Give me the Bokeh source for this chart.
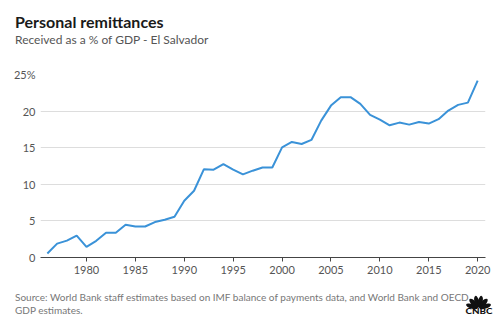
from bokeh.plotting import figure
from bokeh.models import Range1d, FixedTicker, CustomJSTickFormatter, Div
from bokeh.layouts import column
from bokeh.embed import file_html
from bokeh.resources import INLINE

years = list(range(1976, 2021))
remittances = [0.55, 1.9, 2.3, 3.0, 1.46, 2.28, 3.38, 3.38, 4.47, 4.24,
               4.24, 4.84, 5.16, 5.57, 7.76, 9.12, 12.04, 12.0, 12.77, 12.0,
               11.36, 11.86, 12.3, 12.3, 15.05, 15.78, 15.5, 16.06, 18.7, 20.75,
               21.9, 21.9, 20.98, 19.48, 18.84, 18.06, 18.43, 18.15, 18.52, 18.3,
               18.9, 20.07, 20.85, 21.16, 24.17]
x_ticks = [1980, 1985, 1990, 1995, 2000, 2005, 2010, 2015, 2020]
y_ticks = [0, 5, 10, 15, 20, 25]
title_text = "Personal remittances"
subtitle_text = "Received as a % of GDP - El Salvador"
source_lines = ["Source: World Bank staff estimates based on IMF balance of payments data, and World Bank and OECD",
                "GDP estimates."]

FONT = "Lato"

header = Div(
    text=(f'<div style="padding-top:12px;padding-left:15px;font-family:{FONT};">'
          f'<div style="font-size:16px;font-weight:bold;color:#1a1a1a;line-height:20px;white-space:nowrap;">{title_text}</div>'
          f'<div style="font-size:12px;color:#555555;line-height:20px;margin-top:-2px;white-space:nowrap;">{subtitle_text}</div>'
          '</div>'),
    width=500, height=56, margin=0)

p = figure(width=500, height=228, output_backend="svg", toolbar_location=None,
           x_range=Range1d(1975.3, 2020.8), y_range=Range1d(0, 25),
           min_border_left=40, min_border_right=15, min_border_top=18, min_border_bottom=27,
           margin=0)
p.outline_line_color = None
p.background_fill_color = "white"
p.border_fill_color = "white"

p.line(years, remittances, line_color="#3a92d8", line_width=2)

p.xaxis.ticker = FixedTicker(ticks=x_ticks)
p.xaxis.minor_tick_line_color = None
p.xaxis.major_tick_in = 0
p.xaxis.major_tick_out = 4
p.xaxis.axis_line_color = "#444444"
p.xaxis.major_tick_line_color = "#444444"
p.xaxis.major_label_text_font = FONT
p.xaxis.major_label_text_font_size = "11px"
p.xaxis.major_label_text_color = "#555555"
p.xaxis.major_label_standoff = 4

p.yaxis.ticker = FixedTicker(ticks=y_ticks)
p.yaxis.formatter = CustomJSTickFormatter(code="return tick == 25 ? tick + '%' : '' + tick;")
p.yaxis.axis_line_color = None
p.yaxis.major_tick_line_color = None
p.yaxis.minor_tick_line_color = None
p.yaxis.major_tick_in = 0
p.yaxis.major_tick_out = 0
p.yaxis.major_label_text_font = FONT
p.yaxis.major_label_text_font_size = "11px"
p.yaxis.major_label_text_color = "#555555"
p.yaxis.major_label_standoff = 5

p.xgrid.grid_line_color = None
p.ygrid.grid_line_color = "#dddddd"
p.ygrid.grid_line_width = 1

# CNBC peacock logo (decorative)
feathers = "".join(
    f'<ellipse cx="0" cy="-7" rx="2.4" ry="6" transform="rotate({a})" fill="#111"/>'
    for a in (-72, -43, -14, 14, 43, 72))
logo_svg = ('<svg width="28" height="22" viewBox="0 0 28 22" xmlns="http://www.w3.org/2000/svg">'
            f'<g transform="translate(13.5,13.5)">{feathers}</g>'
            f'<text x="0.5" y="18.6" font-family="{FONT}" font-weight="900" font-size="6.5" '
            'textLength="27" lengthAdjust="spacingAndGlyphs" fill="#111">CNBC</text></svg>')

footer = Div(
    text=(f'<div style="position:relative;width:500px;height:43px;font-family:{FONT};">'
          f'<div style="position:absolute;left:15px;top:7px;font-size:10px;color:#777777;line-height:13px;white-space:nowrap;">'
          f'{source_lines[0]}<br>{source_lines[1]}</div>'
          f'<div style="position:absolute;left:465px;top:11px;line-height:0;">{logo_svg}</div>'
          '</div>'),
    width=500, height=43, margin=0)

layout = column(header, p, footer, spacing=0)

open("out.html", "w").write(file_html(layout, INLINE))
